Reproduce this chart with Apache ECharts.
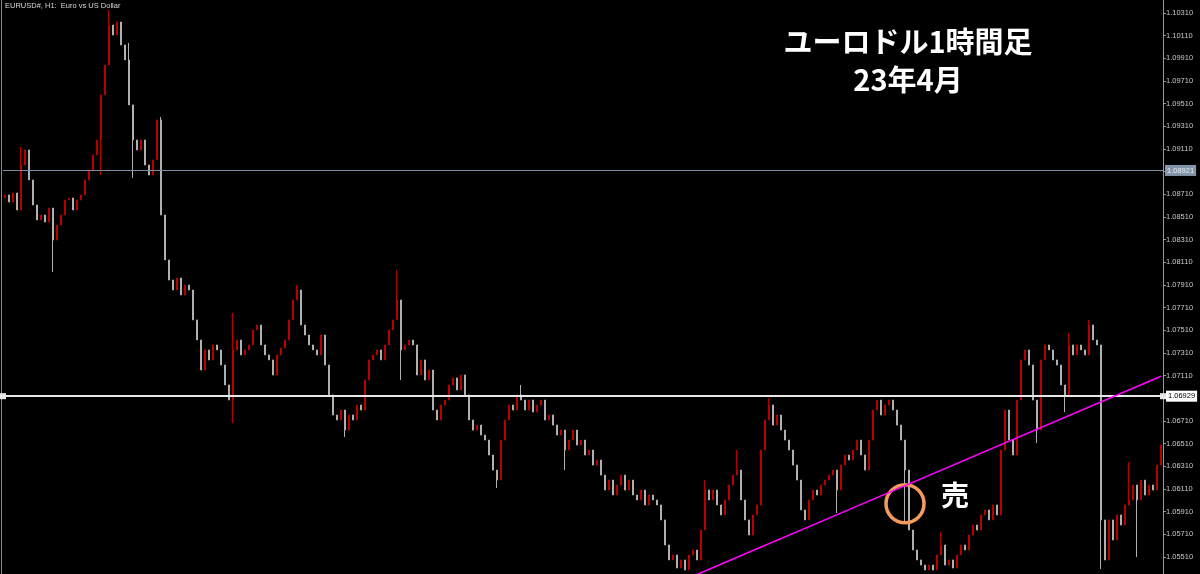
<!DOCTYPE html>
<html>
<head>
<meta charset="utf-8">
<script src="https://cdn.jsdelivr.net/npm/echarts@6/dist/echarts.min.js"></script>
<style>
html,body{margin:0;padding:0;background:#000;}
#c{width:1200px;height:574px;}
</style>
</head>
<body>
<div id="c"></div>
<script>
// EURUSD H1 closes, oldest first
const closes = [
1.08705,1.08642,1.08722,1.08572,1.08969,1.09102,1.08837,1.08616,1.08484,1.08528,
1.08466,1.08589,1.08307,1.08439,1.08528,1.08660,1.08678,1.08572,1.08660,1.08705,
1.08837,1.08925,1.09058,1.09190,1.09587,1.09851,1.10204,1.10116,1.10231,1.10028,
1.09896,1.09499,1.09190,1.09102,1.09190,1.08969,1.08881,1.09014,1.09367,1.08528,
1.08131,1.07954,1.07866,1.07972,1.07822,1.07910,1.07866,1.07602,1.07425,1.07160,
1.07337,1.07249,1.07381,1.07337,1.07204,1.07028,1.06895,1.07337,1.07425,1.07293,
1.07337,1.07381,1.07513,1.07557,1.07381,1.07293,1.07249,1.07116,1.07293,1.07354,
1.07425,1.07602,1.07778,1.07866,1.07557,1.07469,1.07381,1.07337,1.07293,1.07469,
1.07204,1.06940,1.06763,1.06719,1.06807,1.06630,1.06763,1.06719,1.06851,1.06807,
1.07072,1.07249,1.07293,1.07337,1.07249,1.07381,1.07513,1.07602,1.07778,1.07337,
1.07381,1.07425,1.07381,1.07116,1.07249,1.07072,1.07160,1.06807,1.06719,1.06851,
1.06895,1.07028,1.07090,1.06984,1.07116,1.06940,1.06719,1.06630,1.06674,1.06586,
1.06542,1.06410,1.06277,1.06189,1.06542,1.06719,1.06851,1.06807,1.06940,1.06895,
1.06807,1.06895,1.06789,1.06851,1.06895,1.06719,1.06763,1.06674,1.06586,1.06630,
1.06454,1.06542,1.06630,1.06498,1.06542,1.06410,1.06454,1.06321,1.06366,1.06233,
1.06101,1.06189,1.06057,1.06145,1.06233,1.06101,1.06189,1.06057,1.06013,1.06101,
1.05969,1.06057,1.06013,1.05969,1.05837,1.05616,1.05484,1.05528,1.05413,1.05484,
1.05395,1.05528,1.05572,1.05484,1.05748,1.06101,1.06013,1.06101,1.05969,1.05881,
1.06013,1.06145,1.06233,1.06277,1.06013,1.05837,1.05704,1.05881,1.05969,1.06454,
1.06719,1.06851,1.06674,1.06763,1.06630,1.06542,1.06454,1.06321,1.06189,1.05925,
1.05837,1.06013,1.06101,1.06057,1.06145,1.06189,1.06233,1.06277,1.06101,1.06321,
1.06410,1.06366,1.06454,1.06542,1.06410,1.06277,1.06542,1.06807,1.06895,1.06763,
1.06851,1.06895,1.06807,1.06674,1.06542,1.06277,1.05748,1.05572,1.05484,1.05439,
1.05395,1.05439,1.05395,1.05528,1.05616,1.05439,1.05484,1.05413,1.05528,1.05616,
1.05572,1.05704,1.05792,1.05748,1.05881,1.05925,1.05837,1.05969,1.05881,1.06454,
1.06807,1.06542,1.06410,1.06895,1.07249,1.07337,1.07204,1.06895,1.06630,1.07249,
1.07381,1.07337,1.07249,1.07204,1.07028,1.06940,1.07381,1.07293,1.07381,1.07337,
1.07293,1.07557,1.07425,1.07381,1.05837,1.05484,1.05837,1.05660,1.05881,1.05792,
1.05969,1.06013,1.06145,1.06013,1.06189,1.06057,1.06145,1.06101,1.06321,1.06498
];
const firstOpen = 1.08680;
// notable wick extremes: [index, low, high]
const wicks = [
[4,null,1.09128],[12,1.08025,null],[24,1.08881,null],[26,null,1.10337],[31,null,1.10046],
[32,1.08855,null],[39,null,1.09393],[57,1.06692,1.07663],[73,null,1.07910],[85,1.06569,null],
[98,null,1.08042],[99,1.07072,null],[123,1.06119,null],[129,null,1.07028],[140,1.06277,null],
[175,null,1.06189],[183,null,1.06454],[191,null,1.06913],[208,1.05898,null],[225,1.05810,null],
[234,null,1.05731],[258,1.06516,null],[265,1.06789,null],[266,null,1.07487],[271,null,1.07602],
[274,1.05404,null],[281,null,1.06348],[283,1.05510,null]
];
const categories = closes.map((_, i) => String(i));
// price axis tick labels
const yTicks = [1.05510,1.05710,1.05910,1.06110,1.06310,1.06510,1.06710,1.06910,1.07110,1.07310,
  1.07510,1.07710,1.07910,1.08110,1.08310,1.08510,1.08710,1.08910,1.09110,1.09310,1.09510,
  1.09710,1.09910,1.10110,1.10310];
const yMin = 1.05360, yMax = 1.10425;
// horizontal price lines
const bidLine = 1.08921;
const levelLine = 1.06929;
// trend line: [barIndex, price], middle two are the visible handles
const trendPts = [[172,1.05341],[188,1.05582],[206,1.05853],[289,1.07105]];
// sell marker
const sellMark = [225, 1.05980];

const wickMap = {};
wicks.forEach(w => { wickMap[w[0]] = w; });
const ohlc = closes.map((c, i) => {
  const o = i === 0 ? firstOpen : closes[i-1];
  let lo = Math.min(o, c), hi = Math.max(o, c);
  const w = wickMap[i];
  if (w) {
    if (w[1] != null) lo = Math.min(lo, w[1]);
    if (w[2] != null) hi = Math.max(hi, w[2]);
  }
  return [o, c, lo, hi];
});

const lblStyle = { fontSize:7.5, fontFamily:'Liberation Sans', padding:[2,2,1,2] };

const chart = echarts.init(document.getElementById('c'), null, {renderer:'canvas'});
chart.setOption({
  backgroundColor: '#000000',
  animation: false,
  grid: { left: 3, right: 37, top: 0, bottom: 0, containLabel: false },
  xAxis: {
    type: 'category', data: categories, boundaryGap: true,
    axisLine: {show:false}, axisTick: {show:false}, axisLabel: {show:false}, splitLine:{show:false}
  },
  yAxis: {
    type: 'value', position: 'right', min: yMin, max: yMax,
    axisLine: {show:true, lineStyle:{color:'#9a9a9a', width:1}},
    axisTick: {show:true, length:3, lineStyle:{color:'#9a9a9a'}, customValues: yTicks},
    splitLine: {show:false},
    axisLabel: {
      color:'#c8c8c8', fontSize:7.5, fontFamily:'Liberation Sans', margin:3,
      customValues: yTicks,
      formatter: v => Number(v).toFixed(5)
    }
  },
  series: [
    {
      type: 'candlestick',
      data: ohlc,
      barWidth: 2.2,
      itemStyle: { color:'#b80000', color0:'#b0b0b0', borderColor:'#b80000', borderColor0:'#b0b0b0', borderWidth:1 },
      markLine: {
        silent: true, animation:false, precision: 5,
        symbol: ['none','none'],
        data: [
          { yAxis: bidLine,
            lineStyle:{color:'#7d8ea3', width:1, type:'solid'},
            label:Object.assign({show:true, position:'end', distance:2, formatter: () => bidLine.toFixed(5),
              backgroundColor:'#8595a9', color:'#e8eef5'}, lblStyle) }
        ]
      },
      markPoint: {
        silent: true, animation:false,
        data: [{ coord: sellMark, symbol:'circle', symbolSize:38,
          itemStyle:{color:'rgba(0,0,0,0)', borderColor:'#f39a5c', borderWidth:3.5},
          label:{show:false} }]
      }
    },
    {
      type: 'line',
      data: trendPts.map((p, i) => ({ value: p, symbol: (i === 1 || i === 2) ? 'rect' : 'none' })),
      symbolSize: 5,
      itemStyle: { color:'#ffffff', borderColor:'#ff00ff', borderWidth:0.5 },
      lineStyle: { color:'#ff00ff', width:1.6 },
      showSymbol: true, clip: false, z: 5, silent: true,
      markLine: {
        silent: true, animation:false, precision: 5,
        symbol: ['rect','rect'], symbolSize: 6,
        data: [
          { yAxis: levelLine,
            lineStyle:{color:'#e8e8e8', width:2, type:'solid'},
            itemStyle:{color:'#ffffff'},
            label:Object.assign({show:true, position:'end', distance:3, formatter: () => levelLine.toFixed(5),
              backgroundColor:'#ffffff', color:'#000000'}, lblStyle) }
        ]
      }
    }
  ],
  graphic: [
    { type:'line', shape:{x1:1.5,y1:0,x2:1.5,y2:574}, style:{stroke:'#8a8a8a', lineWidth:1}, silent:true },
    { type:'text', x:5, y:2, style:{ text:'EURUSD#, H1:  Euro vs US Dollar', fill:'#d8d8d8', fontSize:7.5, fontFamily:'Liberation Sans' } },
    { type:'text', x:908, y:42, style:{ text:'ユーロドル1時間足', fill:'#ffffff', fontSize:29, fontWeight:'bold', fontFamily:'Noto Sans CJK JP', textAlign:'center', textVerticalAlign:'middle' } },
    { type:'text', x:908, y:80, style:{ text:'23年4月', fill:'#ffffff', fontSize:29, fontWeight:'bold', fontFamily:'Noto Sans CJK JP', textAlign:'center', textVerticalAlign:'middle' } },
    { type:'text', x:955, y:495, style:{ text:'売', fill:'#ffffff', fontSize:28, fontWeight:'bold', fontFamily:'Noto Sans CJK JP', textAlign:'center', textVerticalAlign:'middle' } }
  ]
});
</script>
</body>
</html>
